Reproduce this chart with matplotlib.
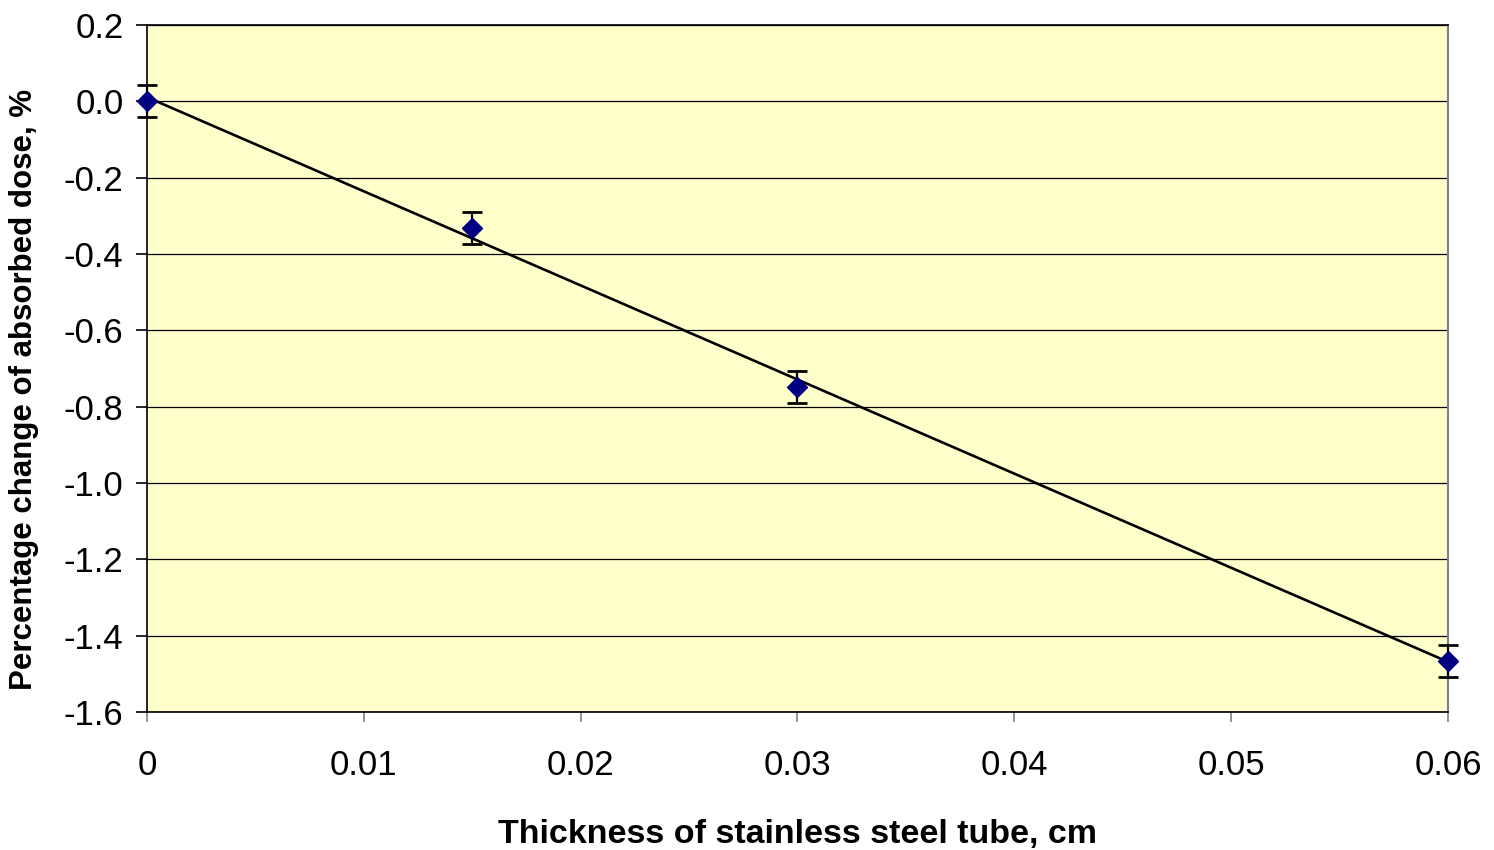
import matplotlib

matplotlib.use('Agg')
import matplotlib.pyplot as plt
import numpy as np

# thickness of tube (cm) and percentage change of absorbed dose
thickness = np.array([0.0, 0.015, 0.03, 0.06])
dose_change = np.array([0.0, -0.332, -0.748, -1.466])
dose_err = np.array([0.042, 0.042, 0.042, 0.042])

x_ticks = [0, 0.01, 0.02, 0.03, 0.04, 0.05, 0.06]
x_tick_labels = ['0', '0.01', '0.02', '0.03', '0.04', '0.05', '0.06']
y_ticks = np.round(np.arange(-1.6, 0.21, 0.2), 1)

plt.rcParams['font.family'] = ['Liberation Sans', 'DejaVu Sans']
plt.rcParams['axes.unicode_minus'] = False

fig = plt.figure(figsize=(14.94, 8.5), dpi=100)
ax = fig.add_axes([0.0984, 0.1624, 0.8708, 0.8082])
ax.set_facecolor('#FFFFCC')

# linear trend line
coeffs = np.polyfit(thickness, dose_change, 1)
line_x = np.array([thickness.min(), thickness.max()])
ax.plot(line_x, np.polyval(coeffs, line_x), color='black', lw=1.9, zorder=3)

ax.errorbar(thickness, dose_change, yerr=dose_err, fmt='none', ecolor='black',
            elinewidth=1.6, capsize=7.5, capthick=2, zorder=4, clip_on=False)
ax.plot(thickness, dose_change, 'D', color='#000080', ms=10.5, mec='#000080', zorder=5,
        clip_on=False)

ax.set_xlim(0, 0.06)
ax.set_ylim(-1.6, 0.2)
ax.set_xticks(x_ticks)
ax.set_xticklabels(x_tick_labels)
ax.set_yticks(y_ticks)
ax.set_yticklabels([f"{v + 0.0:.1f}" for v in y_ticks])

ax.yaxis.grid(True, color='black', lw=0.9)
ax.set_axisbelow(True)

for side in ['left', 'bottom', 'top']:
    ax.spines[side].set_color('black')
    ax.spines[side].set_linewidth(1.2)
ax.spines['right'].set_color('#808080')
ax.spines['right'].set_linewidth(1.5)

ax.tick_params(axis='x', direction='out', length=7, width=1.2, color='#808080',
               labelsize=25, pad=20)
ax.tick_params(axis='y', direction='out', length=8, width=1.2, color='black',
               labelsize=25, pad=9)

ax.set_xlabel("Thickness of stainless steel tube, cm", fontsize=24.5, fontweight='bold',
              labelpad=26)
ax.set_ylabel("Percentage change of absorbed dose, %", fontsize=22.5, fontweight='bold')
ax.yaxis.set_label_coords(-0.083, 0.469)

plt.savefig('out.png', dpi=100)
